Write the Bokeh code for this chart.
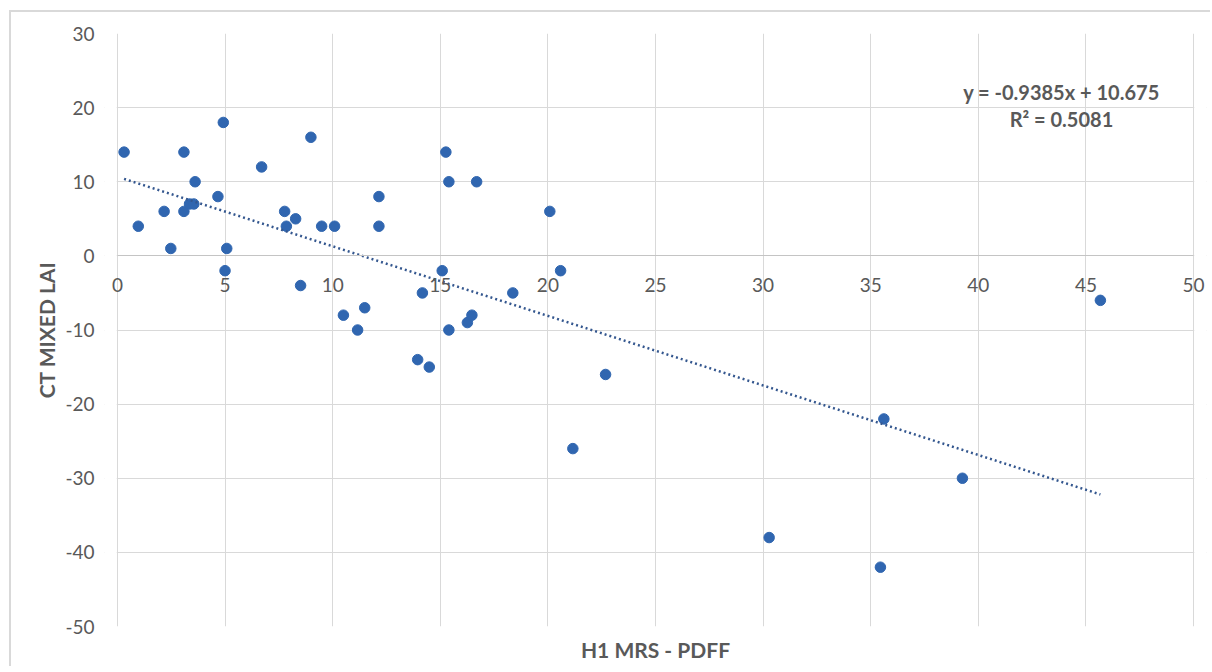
from bokeh.plotting import figure
from bokeh.models import LinearAxis, FixedTicker, Label, ColumnDataSource, Range1d, BoxAnnotation
from bokeh.embed import file_html
from bokeh.resources import INLINE

# ---- data ----
x_vals = [0.31, 0.97, 2.17, 2.48, 3.09, 3.09, 3.35, 3.55, 3.61, 4.67,
          4.92, 5.08, 5.00, 6.70, 7.77, 7.85, 8.28, 8.51, 8.99, 9.49,
          10.09, 12.15, 12.15, 15.26, 15.40, 16.69, 20.09, 15.09, 20.59, 14.17,
          18.37, 10.50, 11.49, 11.16, 13.95, 14.49, 15.40, 16.26, 16.47, 22.68,
          21.16, 30.28, 35.61, 39.26, 35.45, 45.67]
y_vals = [14, 4, 6, 1, 14, 6, 7, 7, 10, 8,
          18, 1, -2, 12, 6, 4, 5, -4, 16, 4,
          4, 8, 4, 14, 10, 10, 6, -2, -2, -5,
          -5, -8, -7, -10, -14, -15, -10, -9, -8, -16,
          -26, -38, -22, -30, -42, -6]
slope = -0.9385
intercept = 10.675
r_squared = 0.5081
x_ticks = [0, 5, 10, 15, 20, 25, 30, 35, 40, 45, 50]
y_ticks = [-50, -40, -30, -20, -10, 0, 10, 20, 30]
x_title = "H1 MRS - PDFF"
y_title = "CT MIXED LAI"
eq_text = "y = -0.9385x + 10.675"
r2_text = "R² = 0.5081"

FONT = "Lato"
TXT = "#595959"
GRID = "#d9d9d9"
BLUE = "#3066B0"
PAD = 0.6  # extra x-range so the end tick labels are not clipped

p = figure(frame_width=1102, frame_height=593,
           x_range=Range1d(x_ticks[0] - PAD, x_ticks[-1] + PAD),
           y_range=Range1d(y_ticks[0], y_ticks[-1]),
           output_backend="svg", toolbar_location=None,
           x_axis_location=None, y_axis_location=None,
           min_border_left=93, min_border_right=4,
           min_border_top=21, min_border_bottom=40)
p.background_fill_color = "white"
p.border_fill_color = "white"
p.outline_line_color = None
p.styles = {"margin-left": "9px", "margin-top": "10px",
            "border-left": "2px solid #d9d9d9", "border-top": "2px solid #d9d9d9"}

p.xgrid.ticker = FixedTicker(ticks=x_ticks)
p.ygrid.ticker = FixedTicker(ticks=y_ticks)
p.xgrid.grid_line_color = GRID
p.ygrid.grid_line_color = GRID

# hide the grid overhang outside 0..50
p.add_layout(BoxAnnotation(right=x_ticks[0] - 0.03, fill_color="white", fill_alpha=1,
                           line_color=None, level="underlay"))
p.add_layout(BoxAnnotation(left=x_ticks[-1] + 0.03, fill_color="white", fill_alpha=1,
                           line_color=None, level="underlay"))

yax = LinearAxis(ticker=FixedTicker(ticks=y_ticks), axis_label=y_title,
                 major_label_overrides={t: str(t) for t in y_ticks},
                 axis_line_color=None, major_tick_line_color=None,
                 minor_tick_line_color=None,
                 major_label_text_font=FONT, major_label_text_font_size="19px",
                 major_label_text_color=TXT, major_label_standoff=4,
                 axis_label_text_font=FONT, axis_label_text_font_style="bold",
                 axis_label_text_font_size="21px", axis_label_text_color=TXT,
                 axis_label_standoff=3)
p.add_layout(yax, "left")

tax = LinearAxis(ticker=FixedTicker(ticks=[]), axis_label=x_title,
                 axis_line_color=None, major_tick_line_color=None,
                 minor_tick_line_color=None, major_label_standoff=0,
                 axis_label_text_font=FONT, axis_label_text_font_style="bold",
                 axis_label_text_font_size="21px", axis_label_text_color=TXT,
                 axis_label_standoff=10)
p.add_layout(tax, "below")

xax = LinearAxis(ticker=FixedTicker(ticks=x_ticks), fixed_location=0,
                 bounds=(x_ticks[0], x_ticks[-1]),
                 major_label_overrides={t: str(t) for t in x_ticks},
                 axis_line_color="#c4c4c4", major_tick_line_color=None,
                 minor_tick_line_color=None,
                 major_label_text_font=FONT, major_label_text_font_size="19px",
                 major_label_text_color=TXT, major_label_standoff=16)
p.add_layout(xax, "below")

src = ColumnDataSource(data=dict(x=x_vals, y=y_vals))
p.scatter(x="x", y="y", source=src, size=10.5, fill_color=BLUE, line_color=BLUE)

tx = [min(x_vals), max(x_vals)]
ty = [slope * v + intercept for v in tx]
p.line(tx, ty, line_color="#34578f", line_width=2.5, line_dash="2 3")

p.add_layout(Label(x=43.86, y=22.16, text=eq_text, text_align="center",
                   text_baseline="middle", text_font=FONT, text_font_style="bold",
                   text_font_size="20px", text_color=TXT))
p.add_layout(Label(x=43.86, y=18.5, text=r2_text, text_align="center",
                   text_baseline="middle", text_font=FONT, text_font_style="bold",
                   text_font_size="20px", text_color=TXT))

open("out.html", "w").write(file_html(p, INLINE))
